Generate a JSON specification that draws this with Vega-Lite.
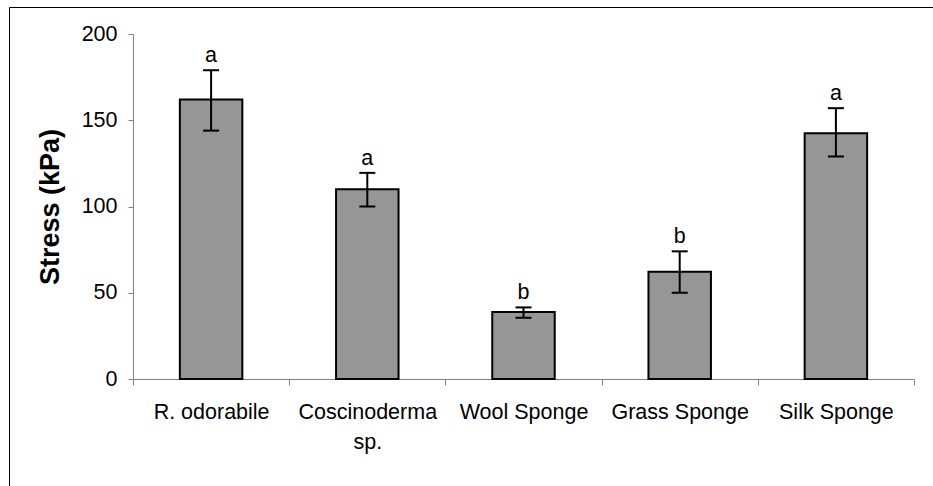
{
  "$schema": "https://vega.github.io/schema/vega-lite/v6.json",
  "width": 924,
  "height": 479,
  "autosize": {"type": "none"},
  "padding": {"left": 9, "top": 7, "right": 0, "bottom": 0},
  "background": "white",
  "config": {
    "view": {"stroke": "black", "strokeWidth": 1, "strokeDash": [924, 1403, 479, 10]},
    "font": "Liberation Sans"
  },
  "data": {
    "values": [
      {"species": "R. odorabile", "stress": 162, "lo": 144, "hi": 179, "group": "a"},
      {"species": "Coscinoderma sp.", "stress": 110, "lo": 100, "hi": 119.5, "group": "a"},
      {"species": "Wool Sponge", "stress": 38.8, "lo": 35.5, "hi": 41.5, "group": "b"},
      {"species": "Grass Sponge", "stress": 62.2, "lo": 50, "hi": 74, "group": "b"},
      {"species": "Silk Sponge", "stress": 142.5, "lo": 129, "hi": 157, "group": "a"}
    ]
  },
  "encoding": {
    "x": {
      "field": "species",
      "type": "nominal",
      "sort": null,
      "scale": {"type": "band", "range": [124, 905], "paddingInner": 0, "paddingOuter": 0},
      "axis": {
        "orient": "bottom",
        "offset": -107,
        "title": null,
        "tickBand": "extent",
        "domainColor": "#808080",
        "tickColor": "#808080",
        "tickSize": 6,
        "labelAngle": 0,
        "labelFontSize": 21.5,
        "labelColor": "black",
        "labelPadding": 16,
        "labelLineHeight": 30,
        "labelOverlap": false,
        "labelLimit": 300,
        "labelExpr": "datum.value == 'Coscinoderma sp.' ? ['Coscinoderma', 'sp.'] : datum.value"
      }
    }
  },
  "layer": [
    {
      "mark": {"type": "bar", "width": {"band": 0.4}, "fill": "#969696", "stroke": "black", "strokeWidth": 2},
      "encoding": {
        "y": {
          "field": "stress",
          "type": "quantitative",
          "scale": {"domain": [0, 200], "range": [372, 27], "nice": false, "zero": true},
          "axis": {
            "orient": "left",
            "offset": -124,
            "title": "Stress (kPa)",
            "titleFontSize": 27,
            "titleFontWeight": "bold",
            "titleColor": "black",
            "titlePadding": 17,
            "values": [0, 50, 100, 150, 200],
            "grid": false,
            "domainColor": "#808080",
            "tickColor": "#808080",
            "tickSize": 5,
            "labelFontSize": 21.5,
            "labelColor": "black",
            "labelPadding": 11
          }
        }
      }
    },
    {
      "mark": {"type": "rule", "strokeWidth": 2, "color": "black"},
      "encoding": {
        "y": {"field": "lo", "type": "quantitative", "title": "Stress (kPa)"},
        "y2": {"field": "hi"}
      }
    },
    {
      "mark": {"type": "tick", "size": 16, "thickness": 2, "color": "black", "opacity": 1},
      "encoding": {"y": {"field": "lo", "type": "quantitative", "title": "Stress (kPa)"}}
    },
    {
      "mark": {"type": "tick", "size": 16, "thickness": 2, "color": "black", "opacity": 1},
      "encoding": {"y": {"field": "hi", "type": "quantitative", "title": "Stress (kPa)"}}
    },
    {
      "mark": {"type": "text", "baseline": "alphabetic", "dy": -8, "fontSize": 21.5, "color": "black"},
      "encoding": {
        "y": {"field": "hi", "type": "quantitative", "title": "Stress (kPa)"},
        "text": {"field": "group"}
      }
    }
  ]
}
